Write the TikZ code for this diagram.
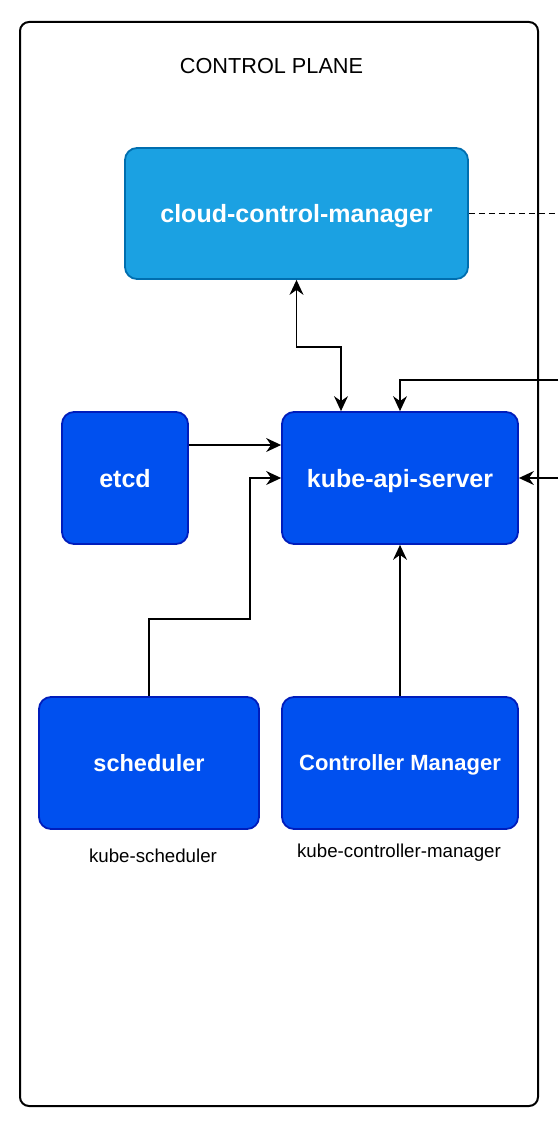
\documentclass[tikz,border=0pt]{standalone}
\usepackage{fontspec}
\setmainfont{Liberation Sans}
\usetikzlibrary{positioning,calc,arrows.meta}
\definecolor{cloudfill}{HTML}{1BA1E2}
\definecolor{cloudline}{HTML}{006EAF}
\definecolor{kubefill}{HTML}{0050EF}
\definecolor{kubeline}{HTML}{001DBC}

\begin{document}
\begin{tikzpicture}[x=1pt,y=-1pt,
  box/.style={draw=kubeline,fill=kubefill,line width=1.8pt,rounded corners=12pt,
    text=white,font=\fontsize{25}{28}\selectfont\bfseries,minimum height=132pt,text depth=0pt},
  link/.style={-{Stealth[length=15pt,width=14pt,inset=5pt]},line width=1.3pt},
  caption/.style={font=\fontsize{18.7}{22}\selectfont,anchor=base}]
\useasboundingbox (0,0) rectangle (558,1134);
\draw[line width=2pt,rounded corners=9pt] (20,22) rectangle (538,1106);
\node (title) [font=\fontsize{21.7}{24}\selectfont,anchor=base] at (271.5,74) {CONTROL PLANE};

\node (cloud) [box,draw=cloudline,fill=cloudfill,minimum width=343pt,minimum height=131pt] at (296.5,213.5) {cloud-control-manager};
\node (etcd) [box,minimum width=126pt] at (125,478) {etcd};
\node (api) [box,minimum width=236pt] at (400,478) {kube-api-server};
\node (sched) [box,minimum width=220pt,font=\fontsize{23.5}{26}\selectfont\bfseries] at (149,763) {scheduler};
\node (cm) [box,minimum width=236pt,font=\fontsize{22}{24}\selectfont\bfseries] at (400,763) {Controller Manager};
\node (schedlabel) [caption] at (153,862) {kube-scheduler};
\node (cmlabel) [caption] at (399,857) {kube-controller-manager};

\coordinate (out1) at (558,212);
\coordinate (in1) at (558,380);
\coordinate (in2) at (558,478);

\draw[dash pattern=on 6pt off 4pt,line width=1.3pt] (cloud.east) -- (cloud.east -| out1);
\draw[link,{Stealth[length=15pt,width=14pt,inset=5pt]}-{Stealth[length=15pt,width=14pt,inset=5pt]}] (cloud.south) -- ++(0,67) -| ([xshift=-59pt]api.north);
\draw[link] (in1) -| (api.north);
\draw[link] (in2) -- (api.east);
\draw[link] ([yshift=33pt]etcd.east) -- ([yshift=33pt]api.west);
\draw[link] (sched.north) -- ++(0,-77) -| (250,478) -- (api.west);
\draw[link] (cm.north) -- (api.south);
\end{tikzpicture}
\end{document}
